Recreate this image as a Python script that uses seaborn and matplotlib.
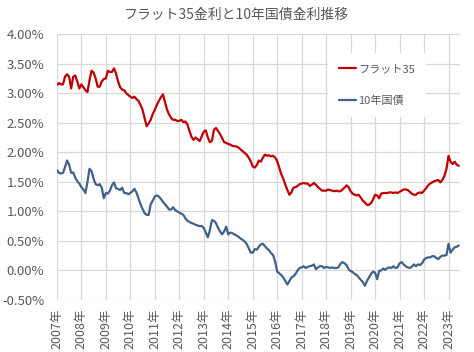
import matplotlib
matplotlib.use("Agg")
import matplotlib.pyplot as plt
import numpy as np
import pandas as pd
import seaborn as sns

# monthly rates (%) from Jan 2007 to Jun 2023
start_year = 2007
flat35 = [
    3.14, 3.17, 3.15, 3.15, 3.28, 3.32, 3.28, 3.08, 3.28, 3.30, 3.20, 3.08,  # 2007
    3.15, 3.10, 3.05, 3.02, 3.22, 3.38, 3.35, 3.25, 3.11, 3.11, 3.20, 3.24,  # 2008
    3.25, 3.38, 3.36, 3.36, 3.42, 3.33, 3.20, 3.10, 3.06, 3.05, 3.00, 2.97,  # 2009
    2.94, 2.92, 2.94, 2.90, 2.87, 2.80, 2.72, 2.58, 2.44, 2.49, 2.55, 2.65,  # 2010
    2.72, 2.80, 2.87, 2.93, 2.98, 2.85, 2.72, 2.64, 2.58, 2.55, 2.55, 2.53,  # 2011
    2.53, 2.55, 2.51, 2.52, 2.47, 2.36, 2.26, 2.21, 2.25, 2.22, 2.19, 2.27,  # 2012
    2.35, 2.37, 2.25, 2.17, 2.19, 2.38, 2.41, 2.36, 2.31, 2.24, 2.17, 2.16,  # 2013
    2.14, 2.13, 2.11, 2.10, 2.10, 2.08, 2.05, 2.02, 1.99, 1.96, 1.91, 1.85,  # 2014
    1.76, 1.74, 1.78, 1.86, 1.84, 1.91, 1.96, 1.94, 1.95, 1.93, 1.94, 1.91,  # 2015
    1.85, 1.74, 1.63, 1.55, 1.45, 1.36, 1.28, 1.32, 1.40, 1.41, 1.43, 1.46,  # 2016
    1.47, 1.48, 1.47, 1.47, 1.43, 1.45, 1.48, 1.45, 1.41, 1.38, 1.35, 1.35,  # 2017
    1.35, 1.37, 1.36, 1.35, 1.34, 1.35, 1.34, 1.34, 1.37, 1.40, 1.44, 1.41,  # 2018
    1.34, 1.30, 1.28, 1.27, 1.28, 1.23, 1.18, 1.15, 1.11, 1.11, 1.14, 1.20,  # 2019
    1.28, 1.27, 1.22, 1.30, 1.31, 1.31, 1.31, 1.32, 1.32, 1.31, 1.32, 1.31,  # 2020
    1.33, 1.35, 1.37, 1.37, 1.36, 1.33, 1.30, 1.28, 1.28, 1.31, 1.32, 1.31,  # 2021
    1.35, 1.39, 1.44, 1.47, 1.49, 1.51, 1.52, 1.53, 1.49, 1.53, 1.60, 1.72,  # 2022
    1.94, 1.84, 1.80, 1.84, 1.79, 1.77,                                      # 2023
]
jgb10 = [
    1.70, 1.65, 1.64, 1.65, 1.75, 1.86, 1.79, 1.65, 1.66, 1.57, 1.51, 1.47,  # 2007
    1.41, 1.37, 1.31, 1.50, 1.72, 1.68, 1.55, 1.46, 1.44, 1.46, 1.40, 1.22,  # 2008
    1.31, 1.30, 1.35, 1.44, 1.49, 1.39, 1.38, 1.36, 1.40, 1.31, 1.31, 1.29,  # 2009
    1.31, 1.34, 1.38, 1.32, 1.22, 1.12, 1.04, 0.97, 0.94, 0.94, 1.12, 1.18,  # 2010
    1.25, 1.27, 1.25, 1.21, 1.16, 1.12, 1.08, 1.03, 1.03, 1.07, 1.02, 1.00,  # 2011
    0.98, 0.96, 0.94, 0.88, 0.84, 0.82, 0.80, 0.79, 0.77, 0.76, 0.75, 0.75,  # 2012
    0.72, 0.64, 0.56, 0.68, 0.85, 0.84, 0.80, 0.72, 0.66, 0.61, 0.66, 0.74,  # 2013
    0.61, 0.64, 0.63, 0.61, 0.59, 0.57, 0.54, 0.52, 0.49, 0.45, 0.38, 0.30,  # 2014
    0.30, 0.36, 0.35, 0.40, 0.44, 0.45, 0.41, 0.37, 0.34, 0.29, 0.26, 0.15,  # 2015
    -0.02, -0.05, -0.08, -0.12, -0.18, -0.24, -0.18, -0.12, -0.10, -0.06, 0.00, 0.04,  # 2016
    0.05, 0.07, 0.04, 0.06, 0.07, 0.08, 0.10, 0.02, 0.05, 0.07, 0.07, 0.04,  # 2017
    0.06, 0.05, 0.04, 0.05, 0.04, 0.04, 0.05, 0.11, 0.14, 0.12, 0.09, 0.02,  # 2018
    -0.01, -0.03, -0.06, -0.08, -0.12, -0.16, -0.20, -0.26, -0.18, -0.12, -0.06, -0.02,  # 2019
    -0.04, -0.15, -0.01, 0.00, 0.03, 0.01, 0.04, 0.05, 0.04, 0.07, 0.04, 0.05,  # 2020
    0.12, 0.14, 0.10, 0.07, 0.05, 0.04, 0.06, 0.10, 0.07, 0.10, 0.09, 0.12,  # 2021
    0.18, 0.21, 0.22, 0.22, 0.24, 0.24, 0.21, 0.19, 0.23, 0.25, 0.25, 0.26,  # 2022
    0.45, 0.30, 0.35, 0.39, 0.40, 0.42,                                      # 2023
]
years = list(range(2007, 2024))
series_names = ["フラット35", "10年国債"]

months = np.arange(len(flat35))
t = start_year + months / 12
df = pd.concat([
    pd.DataFrame({"t": t, "rate": flat35, "series": series_names[0]}),
    pd.DataFrame({"t": t, "rate": jgb10, "series": series_names[1]}),
])

sns.set_style("white")
plt.rcParams["font.family"] = ["Noto Sans CJK JP", "DejaVu Sans"]

fig = plt.figure(figsize=(4.74, 3.52), dpi=100)
ax = fig.add_axes([0.12, 0.148, 0.85, 0.755])

sns.lineplot(data=df, x="t", y="rate", hue="series", ax=ax,
             palette=["#C00000", "#41618A"], linewidth=1.6, legend=False)

ax.set_xlim(2007, 2023.46)
ax.set_ylim(-0.5, 4.0)
ax.set_yticks(np.arange(-0.5, 4.01, 0.5))
ax.set_yticklabels([f"{v:.2f}%" for v in np.arange(-0.5, 4.01, 0.5)])
ax.set_xticks(years)
ax.set_xticklabels([f"{y}年" for y in years], rotation=90)
ax.tick_params(axis="y", length=0, pad=9, labelsize=9.5, labelcolor="#595959")
ax.tick_params(axis="x", length=0, pad=6, labelsize=9, labelcolor="#595959")
ax.grid(True, color="#D9D9D9", linewidth=0.9)
for s in ax.spines.values():
    s.set_visible(False)
ax.set_xlabel("")
ax.set_ylabel("")

handles = [plt.Line2D([], [], color="#C00000", linewidth=1.6),
           plt.Line2D([], [], color="#41618A", linewidth=1.6)]
leg = ax.legend(handles, series_names, loc="upper left",
                bbox_to_anchor=(0.66, 0.95), frameon=True, fancybox=False,
                fontsize=8, labelcolor="#595959", handlelength=1.5,
                handletextpad=0.2, labelspacing=1.9, borderpad=1.0)
leg.get_frame().set_facecolor("white")
leg.get_frame().set_edgecolor("none")
leg.get_frame().set_alpha(1)

fig.suptitle("フラット35金利と10年国債金利推移", y=0.957, va="center",
             fontsize=10, color="#595959")

fig.savefig("out.png", dpi=100)
